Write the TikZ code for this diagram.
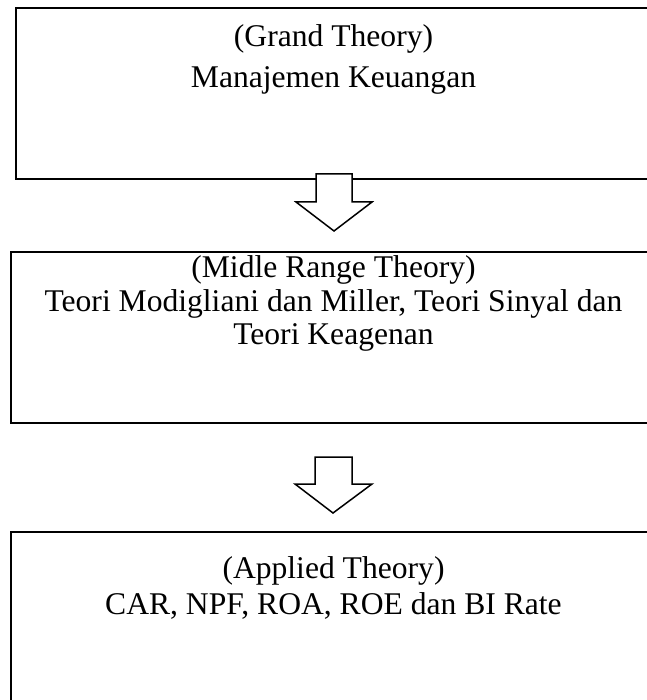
\documentclass[tikz,border=0pt]{standalone}
\usepackage{fontspec}
\setmainfont{Liberation Serif}
\usepackage{tikz}

\tikzset{
  theorybox/.style={draw, line width=2pt, rectangle, inner sep=0pt, anchor=north west},
  theorytext/.style={anchor=base, inner sep=0pt, font=\fontsize{31.6}{34}\selectfont},
  blockarrow/.style={draw, line width=1.5pt, line join=miter, fill=white}
}

\begin{document}
\begin{tikzpicture}[x=1pt,y=-1pt]
\useasboundingbox (0,0) rectangle (646,700);

%Boxes
\node[theorybox, minimum width=637pt, minimum height=171pt] (grand) at (15,7) {};
\node[theorybox, minimum width=647pt, minimum height=171pt] (midle) at (10,251) {};
\node[theorybox, minimum width=647pt, minimum height=200pt] (applied) at (10,531) {};

%Block arrows
\draw[blockarrow] (316,174) -- (352,174) -- (352,202) -- (372,202) -- (334,231) -- (296,202) -- (316,202) -- cycle;
\draw[blockarrow] (315,457) -- (352,457) -- (352,484) -- (372,484) -- (333,513) -- (295,484) -- (315,484) -- cycle;

% Text Node
\node[theorytext] (grandtitle) at (333.5,47) {(Grand Theory)};
\node[theorytext] (grandbody) at (333.5,88) {Manajemen Keuangan};
% Text Node
\node[theorytext] (midletitle) at (333.5,277) {(Midle Range Theory)};
\node[theorytext] (midlebody) at (333.5,311) {Teori Modigliani dan Miller, Teori Sinyal dan};
\node[theorytext] (midlebodyb) at (333.5,344) {Teori Keagenan};
% Text Node
\node[theorytext] (appliedtitle) at (333.5,578) {(Applied Theory)};
\node[theorytext] (appliedbody) at (333.5,614) {CAR, NPF, ROA, ROE dan BI Rate};
\end{tikzpicture}
\end{document}
